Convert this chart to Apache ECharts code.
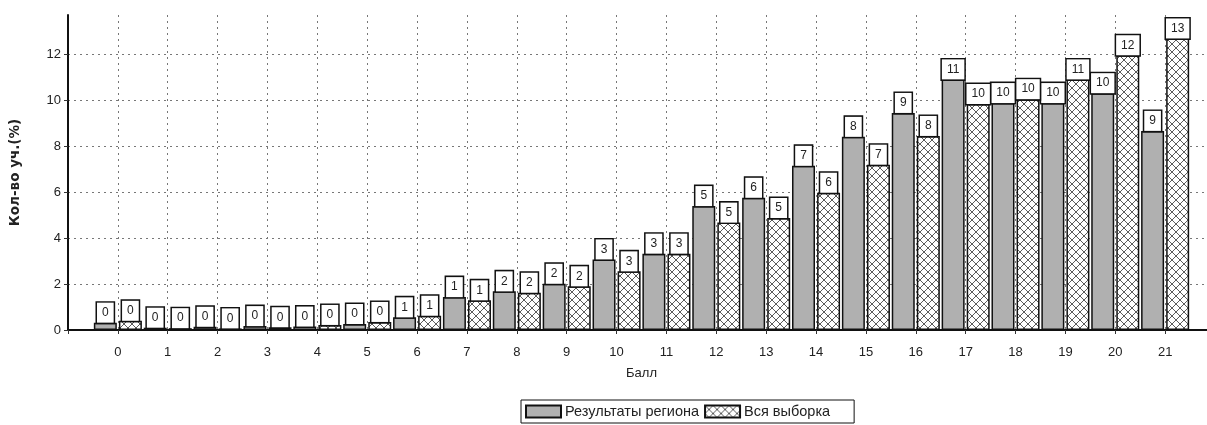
<!DOCTYPE html>
<html>
<head>
<meta charset="utf-8">
<script src="https://cdn.jsdelivr.net/npm/echarts@6/dist/echarts.min.js"></script>
<style>html,body{margin:0;padding:0;background:#fff;}#c{width:1207px;height:425px;}</style>
</head>
<body>
<div id="c"></div>
<script>
var categories = ['0','1','2','3','4','5','6','7','8','9','10','11','12','13','14','15','16','17','18','19','20','21'];
var regionValues = [0.32,0.10,0.14,0.17,0.15,0.26,0.55,1.43,1.68,2.01,3.07,3.32,5.39,5.75,7.14,8.40,9.44,10.90,9.87,9.87,10.30,8.66];
var allValues = [0.40,0.08,0.07,0.12,0.22,0.35,0.62,1.29,1.62,1.90,2.55,3.32,4.67,4.87,5.97,7.19,8.44,9.83,10.04,10.90,11.95,12.68];
var seriesNames = ['Результаты региона','Вся выборка'];
var yTicks = [0,2,4,6,8,10,12];
var xName = 'Балл';
var yName = 'Кол-во уч.(%)';

function hatch() {
  var c = document.createElement('canvas');
  c.width = 8; c.height = 8;
  var g = c.getContext('2d');
  g.fillStyle = '#ffffff'; g.fillRect(0,0,8,8);
  g.strokeStyle = '#4a4a4a'; g.lineWidth = 0.9;
  g.beginPath();
  g.moveTo(0,0); g.lineTo(8,8);
  g.moveTo(0,8); g.lineTo(8,0);
  g.stroke();
  return c;
}

var axisCats = [''].concat(categories).concat(['']);
var regData = [null].concat(regionValues).concat([null]);
var allData = [null].concat(allValues).concat([null]);
var font = 'Liberation Sans, Arial, sans-serif';

var labelCfg = {
  show: true, position: 'top', distance: 0,
  formatter: function(p){ return String(Math.round(p.value)); },
  backgroundColor: '#fff', borderColor: '#111', borderWidth: 1.5,
  padding: [4,5,4,5], fontSize: 12, color: '#222', fontFamily: font, lineHeight: 12
};

var chart = echarts.init(document.getElementById('c'), null, {renderer: 'canvas'});
chart.setOption({
  animation: false,
  backgroundColor: '#fff',
  grid: {left: 68, top: 15, width: 1147, height: 315, containLabel: false, outerBoundsMode: 'none'},
  legend: {
    left: 521, top: 400, orient: 'horizontal', icon: 'rect',
    borderColor: '#111', borderWidth: 1, padding: [4,24,4,4],
    itemWidth: 35, itemHeight: 12, itemGap: 5,
    textStyle: {fontSize: 14.5, fontFamily: font, color: '#222', padding: [0,0,0,-1]},
    data: seriesNames
  },
  xAxis: {
    type: 'category', data: axisCats, boundaryGap: false,
    name: xName, nameLocation: 'middle', nameGap: 37,
    nameTextStyle: {fontSize: 13, fontFamily: font, color: '#222'},
    axisLine: {lineStyle: {color: '#111', width: 2}},
    axisTick: {show: true, length: 4, lineStyle: {color: '#333'}},
    axisLabel: {fontSize: 13, fontFamily: font, color: '#222', margin: 16, interval: 0},
    splitLine: {show: true, lineStyle: {type: [2,4], color: '#777', width: 1}}
  },
  yAxis: {
    type: 'value', min: 0, max: 13.7, interval: 2,
    name: yName, nameLocation: 'middle', nameGap: 46,
    nameTextStyle: {fontSize: 13.5, fontFamily: 'DejaVu Sans, sans-serif', color: '#222', fontWeight: 'bold'},
    axisLine: {show: true, lineStyle: {color: '#111', width: 2}},
    axisTick: {show: true, length: 4, lineStyle: {color: '#333'}},
    axisLabel: {fontSize: 13, fontFamily: font, color: '#222', margin: 7, showMaxLabel: false,
      formatter: function(v){ return yTicks.indexOf(v) >= 0 ? String(v) : ''; }},
    splitLine: {show: true, showMaxLine: false, lineStyle: {type: [2,4], color: '#777', width: 1}}
  },
  series: [
    {name: seriesNames[0], type: 'bar', data: regData, barWidth: 23, barGap: '9%',
     itemStyle: {color: '#b0b0b0', borderColor: '#111', borderWidth: 1.5}, label: labelCfg},
    {name: seriesNames[1], type: 'bar', data: allData, barWidth: 23,
     itemStyle: {color: {image: hatch(), repeat: 'repeat'}, borderColor: '#111', borderWidth: 1.5}, label: labelCfg}
  ]
});
</script>
</body>
</html>
